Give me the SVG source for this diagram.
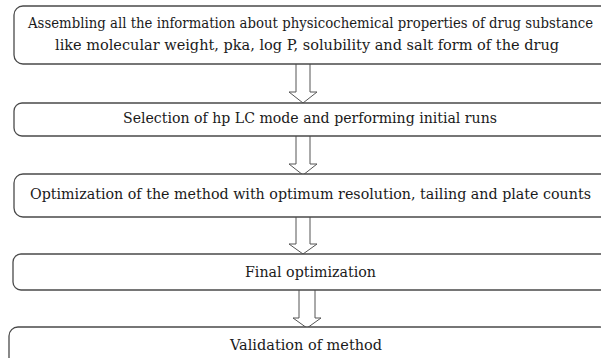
<svg xmlns="http://www.w3.org/2000/svg" width="601" height="358" viewBox="0 0 601 358">
<defs>
<style>
.box{fill:#fff;stroke:#4a4a4a;stroke-width:1.3}
.arr{fill:#fff;stroke:#555;stroke-width:1}
.t{font-family:'DejaVu Serif','Liberation Serif',serif;font-size:15px;fill:#1a1a1a}
</style>
</defs>
<rect width="601" height="358" fill="#fff"/>
<g id="connectors">
<path class="arr" d="M296,64 V92 H289 L303,103 L317,92 H310 V64"/>
<path class="arr" d="M296,136 V164 H289 L303,175 L317,164 H310 V136"/>
<path class="arr" d="M296,217 V244 H289 L303,254 L317,244 H310 V217"/>
<path class="arr" d="M299,290 V318 H293 L307,328 L321,318 H315 V290"/>
</g>
<g id="node1">
<rect class="box" x="14" y="6" width="600" height="58" rx="9"/>
<text class="t" x="28" y="28" textLength="565" lengthAdjust="spacingAndGlyphs">Assembling all the information about physicochemical properties of drug substance</text>
<text class="t" x="55" y="50" textLength="504" lengthAdjust="spacingAndGlyphs">like molecular weight, pka, log P, solubility and salt form of the drug</text>
</g>
<g id="node2">
<rect class="box" x="14" y="103" width="600" height="33" rx="8"/>
<text class="t" x="123" y="123" textLength="374" lengthAdjust="spacingAndGlyphs">Selection of hp LC mode and performing initial runs</text>
</g>
<g id="node3">
<rect class="box" x="14" y="174" width="600" height="43" rx="9"/>
<text class="t" x="30" y="199" textLength="561" lengthAdjust="spacingAndGlyphs">Optimization of the method with optimum resolution, tailing and plate counts</text>
</g>
<g id="node4">
<rect class="box" x="13" y="254" width="600" height="36" rx="8"/>
<text class="t" x="245" y="277" textLength="131" lengthAdjust="spacingAndGlyphs">Final optimization</text>
</g>
<g id="node5">
<rect class="box" x="9" y="327" width="600" height="40" rx="9"/>
<text class="t" x="230" y="350" textLength="152" lengthAdjust="spacingAndGlyphs">Validation of method</text>
</g>
</svg>
